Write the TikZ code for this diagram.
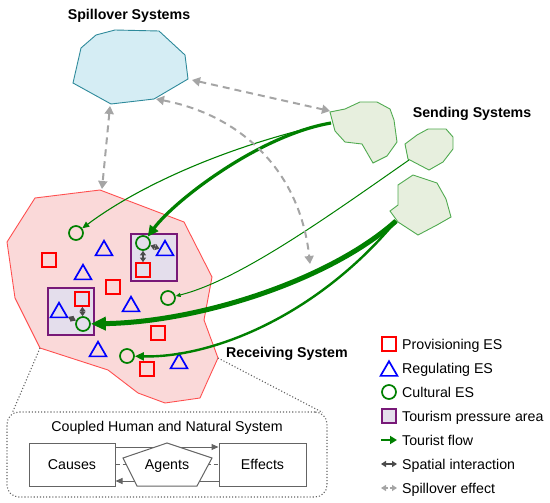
\documentclass[tikz,border=0pt]{standalone}
\usepackage{fontspec}
\setmainfont{Liberation Sans}
\usetikzlibrary{shapes.geometric, arrows.meta, positioning, calc}
\definecolor{esred}{RGB}{255, 0, 0}
\definecolor{esblue}{RGB}{0, 0, 255}
\definecolor{esgreen}{RGB}{0, 128, 0}
\definecolor{recvfill}{RGB}{250, 217, 217}
\definecolor{recvline}{RGB}{255, 80, 80}
\definecolor{spillfill}{RGB}{213, 237, 244}
\definecolor{spillline}{RGB}{46, 138, 155}
\definecolor{sendfill}{RGB}{231, 239, 222}
\definecolor{sendline}{RGB}{80, 170, 80}
\definecolor{presspurple}{RGB}{120, 25, 120}
\definecolor{pressfill}{RGB}{228, 222, 236}
\definecolor{spillgray}{RGB}{165, 165, 165}
\definecolor{spatgray}{RGB}{75, 75, 75}
\definecolor{boxgray}{RGB}{100, 100, 100}

\begin{document}
\begin{tikzpicture}[x=1pt, y=-1pt, font=\fontsize{14.2}{17}\selectfont,
            title/.style={font=\fontsize{14.2}{17}\selectfont\bfseries, inner sep=0pt},
            prov/.style={draw=esred, line width=1.7, minimum size=14pt, inner sep=0pt},
            reg/.style={regular polygon, regular polygon sides=3, draw=esblue, line width=1.7, minimum size=19.5pt, inner sep=0pt},
            cult/.style={circle, draw=esgreen, line width=1.7, minimum size=14pt, inner sep=0pt},
            press/.style={draw=presspurple, line width=1.8, fill=pressfill, inner sep=0pt},
            spillsys/.style={draw=spillline, fill=spillfill, line width=0.9},
            sendsys/.style={draw=sendline, fill=sendfill, line width=0.9},
            recvsys/.style={draw=recvline, fill=recvfill, line width=0.9},
            flowthin/.style={esgreen, line width=1.1, -{Triangle[length=7pt, width=6pt]}},
            flowmid/.style={esgreen, line width=2.4, -{Triangle[length=9pt, width=8pt]}},
            flowthick/.style={esgreen, line width=3.2, -{Triangle[length=11pt, width=10pt]}},
            flowheavy/.style={esgreen, line width=5, -{Triangle[length=15pt, width=13pt]}},
            spatial/.style={spatgray, line width=1.6, {Triangle[length=4.5pt, width=6pt]}-{Triangle[length=4.5pt, width=6pt]}},
            spill/.style={spillgray, line width=2, dash pattern=on 7pt off 5pt, {Triangle[length=8pt, width=9pt]}-{Triangle[length=8pt, width=9pt]}},
            legtext/.style={anchor=base west, inner sep=0pt},
            zoomline/.style={boxgray, line width=1.1, dotted},
            cbox/.style={draw=boxgray, line width=1, minimum height=43pt, align=center},
            cflow/.style={boxgray, line width=1, -{Triangle[length=7pt, width=6pt]}},
            cdash/.style={boxgray, line width=1, dash pattern=on 4pt off 3pt}
        ]
            \useasboundingbox (0,0) rectangle (550,503);

            % Spillover system
            \draw[spillsys] (81,48) -- (96,35) -- (115,30) -- (159,31) -- (185,55) -- (188,79) -- (154,99) -- (111,104) -- (73,83) -- cycle;
            \node[title] (spilltitle) at (129,16) {Spillover Systems};

            % Sending systems
            \draw[sendsys] (330,112) -- (345,109) -- (360,102) -- (377,102) -- (390,109) -- (394,120) -- (397,142) -- (387,156) -- (373,163) -- (362,144) -- (345,142) -- (335,131) -- cycle;
            \draw[sendsys] (405,144) -- (417,135) -- (428,129) -- (446,129) -- (453,137) -- (453,149) -- (443,162) -- (429,170) -- (408,159) -- cycle;
            \draw[sendsys] (390,211) -- (398,205) -- (398,185) -- (413,175) -- (437,183) -- (446,199) -- (451,217) -- (437,225) -- (418,235) -- (398,222) -- cycle;
            \node[title] (sendtitle) at (472,114) {Sending Systems};

            % Receiving system
            \draw[recvsys] (100,190) -- (184,222) -- (212,277) -- (204,320) -- (218,358) -- (208,380) -- (200,398) -- (165,403) -- (138,393) -- (108,370) -- (40,348) -- (15,298) -- (7,242) -- (35,198) -- cycle;
            \node[title, anchor=west] (recvtitle) at (226,354) {Receiving System};

            % Tourism pressure areas
            \node[press, minimum width=46pt, minimum height=47pt] (press1) at (154,257.5) {};
            \node[press, minimum width=46pt, minimum height=47pt] (press2) at (71,311.5) {};

            % Ecosystem services
            \node[prov] (s1) at (49,260) {};
            \node[prov] (s2) at (113,287) {};
            \node[prov] (s3) at (158,333) {};
            \node[prov] (s4) at (147,369) {};
            \node[prov] (s5) at (143,270) {};
            \node[prov] (s6) at (82,299) {};

            \node[reg] (t1) at (104,250.5) {};
            \node[reg] (t2) at (83,274.5) {};
            \node[reg] (t3) at (131,306.5) {};
            \node[reg] (t4) at (98,351.5) {};
            \node[reg] (t5) at (179,363.5) {};
            \node[reg] (t6) at (165,250.5) {};
            \node[reg] (t7) at (59,312.5) {};

            \node[cult] (c1) at (76,233) {};
            \node[cult] (c2) at (143,243) {};
            \node[cult] (c3) at (168,298) {};
            \node[cult] (c4) at (83,324) {};
            \node[cult] (c5) at (127,356) {};

            % Spatial interactions
            \draw[spatial] (c2) -- (t6);
            \draw[spatial] (c2) -- (s5);
            \draw[spatial] (c4) -- (s6);
            \draw[spatial] (c4) -- (t7);

            % Tourist flows
            \coordinate (send1) at (331,123);
            \coordinate (send2) at (409,160);
            \coordinate (send3) at (396,221);
            \draw[flowthin] (send1) .. controls (230,145) and (140,185) .. (c1);
            \draw[flowthick] (send1) .. controls (260,135) and (175,200) .. (c2);
            \draw[esgreen, line width=1, -{Triangle[length=5pt, width=4pt]}] (send2) .. controls (330,215) and (240,280) .. (c3);
            \draw[flowheavy] (send3) .. controls (330,280) and (200,322) .. (c4);
            \draw[flowmid] (send3) .. controls (315,318) and (210,358) .. (c5);

            % Spillover effects
            \coordinate (spillS) at (110,106);
            \coordinate (spillE) at (192,80);
            \coordinate (spillSE) at (156,99);
            \coordinate (recvN) at (102,189);
            \coordinate (send1W) at (330,111);
            \coordinate (spillend) at (310,264);
            \draw[spill] (spillS) -- (recvN);
            \draw[spill] (spillE) -- (send1W);
            \draw[spill] (spillSE) .. controls (240,115) and (300,170) .. (spillend);

            % Coupled system box
            \node[draw=boxgray, line width=1.1, dotted, rounded corners=12pt, minimum width=320pt, minimum height=85pt] (chans) at (167,454.5) {};
            \node (chanstitle) at (167,428) {Coupled Human and Natural System};
            \node[cbox, minimum width=86pt] (causes) at (72,464.5) {Causes};
            \node[cbox, minimum width=87pt] (effects) at (262.5,464.5) {Effects};
            \draw[cdash] (causes) -- (effects);
            \draw[cflow] ([yshift=17.5pt]causes.east) -- ([yshift=17.5pt]effects.west);
            \draw[cflow] ([yshift=-16.5pt]effects.west) -- ([yshift=-16.5pt]causes.east);
            \draw[boxgray, line width=1, fill=white] (167,443) -- (212,458) -- (197,486) -- (137,486) -- (123,458) -- cycle;
            \node (agents) at (167,466) {Agents};

            \coordinate (recvSW) at (40,348);
            \coordinate (recvSE) at (218,358);
            \draw[zoomline] (recvSW) -- ([shift={(6pt,-1pt)}]chans.north west);
            \draw[zoomline] (recvSE) -- ([shift={(-5pt,-1pt)}]chans.north east);

            % Legend
            \node[prov, minimum size=14pt] (lprov) at (389,344) {};
            \node[reg] (lreg) at (389,371) {};
            \node[cult] (lcult) at (389,392) {};
            \node[press, minimum size=14pt] (lpress) at (389,416) {};
            \coordinate (lflowa) at (381,440);
            \coordinate (lflowb) at (397,440);
            \coordinate (lspata) at (381,464);
            \coordinate (lspatb) at (397,464);
            \coordinate (lspilla) at (381,488);
            \coordinate (lspillb) at (397,488);
            \draw[esgreen, line width=2.4, -{Triangle[length=7pt, width=8pt]}] (lflowa) -- (lflowb);
            \draw[spatgray, line width=1.6, {Triangle[length=5pt, width=6pt]}-{Triangle[length=5pt, width=6pt]}] (lspata) -- (lspatb);
            \draw[spillgray, line width=1.6, dash pattern=on 2pt off 2pt, {Triangle[length=5pt, width=6pt]}-{Triangle[length=5pt, width=6pt]}] (lspilla) -- (lspillb);

            \node[legtext] (tprov) at (402,349) {Provisioning ES};
            \node[legtext] (treg) at (402,373) {Regulating ES};
            \node[legtext] (tcult) at (402,397) {Cultural ES};
            \node[legtext] (tpress) at (402,421) {Tourism pressure area};
            \node[legtext] (tflow) at (402,445) {Tourist flow};
            \node[legtext] (tspat) at (402,469) {Spatial interaction};
            \node[legtext] (tspill) at (402,493) {Spillover effect};
        \end{tikzpicture}
\end{document}
